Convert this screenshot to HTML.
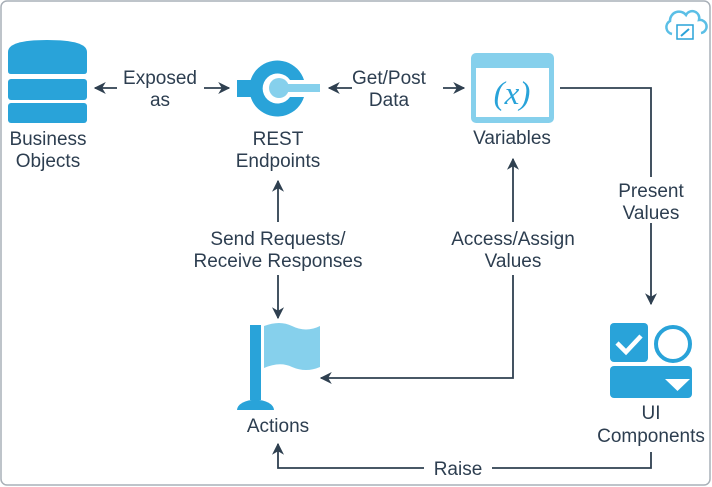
<!DOCTYPE html>
<html><head><style>
html,body{margin:0;padding:0;background:#fff;}
svg{display:block;}
text{font-family:"Liberation Sans",sans-serif;font-size:19px;fill:#2d3e50;text-anchor:middle;}
</style></head><body>
<svg width="712" height="487" viewBox="0 0 712 487" xmlns="http://www.w3.org/2000/svg">
<defs>
<marker id="a" viewBox="0 0 10 10" refX="9" refY="5" markerWidth="12" markerHeight="12" markerUnits="userSpaceOnUse" orient="auto-start-reverse">
<path d="M0,0 L10,5 L0,10 L3,5 Z" fill="#2f4050"/></marker>
</defs>
<rect x="1" y="1" width="709" height="484" rx="6" fill="#fff" stroke="#a9b0b8" stroke-width="1.5"/>
<!-- cloud -->
<g fill="none" stroke="#5bbfe6" stroke-width="2.5">
<path d="M672,34 a7,7 0 0 1 -2,-13 a9,9 0 0 1 16,-6 a7,7 0 0 1 13,5 a6,6 0 0 1 2,13"/>
</g>
<rect x="677" y="25" width="16" height="14" fill="#fff" stroke="#29a3d9" stroke-width="1.5"/>
<line x1="681" y1="36" x2="689" y2="29" stroke="#29a3d9" stroke-width="2"/>
<!-- DB -->
<g fill="#29a3d9">
<path d="M8,52 Q8,40 47,40 Q87,40 87,52 L87,71 Q87,74 84,74 L11,74 Q8,74 8,71 Z"/>
<rect x="8" y="79" width="79" height="21" rx="3"/>
<rect x="8" y="103" width="79" height="20" rx="3"/>
</g>
<text x="48" y="145">Business</text><text x="48" y="167">Objects</text>
<!-- exposed as -->
<line x1="117" y1="88" x2="95" y2="88" stroke="#2f4050" stroke-width="1.8" marker-end="url(#a)"/>
<line x1="204" y1="88" x2="229" y2="88" stroke="#2f4050" stroke-width="1.8" marker-end="url(#a)"/>
<text x="160" y="84">Exposed</text><text x="160" y="106">as</text>
<!-- REST -->
<path d="M304,80 A28,28 0 1 0 304,97 L290,97 A15,15 0 1 1 290,80 Z" fill="#29a3d9"/>
<rect x="237" y="80" width="14" height="17" fill="#29a3d9"/>
<circle cx="279" cy="88" r="10" fill="#86d0ec"/>
<rect x="279" y="84" width="41" height="8" fill="#86d0ec"/>
<text x="278" y="145">REST</text><text x="278" y="167">Endpoints</text>
<!-- get/post -->
<line x1="352" y1="88" x2="329" y2="88" stroke="#2f4050" stroke-width="1.8" marker-end="url(#a)"/>
<line x1="443" y1="88" x2="464" y2="88" stroke="#2f4050" stroke-width="1.8" marker-end="url(#a)"/>
<text x="389" y="84">Get/Post</text><text x="389" y="106">Data</text>
<!-- Variables -->
<rect x="471" y="53" width="83" height="70" rx="5" fill="#86d0ec"/>
<rect x="476" y="68" width="73" height="49" fill="#fff"/>
<text x="512" y="104" style="font-family:'Liberation Serif',serif;font-size:33px;fill:#29a3d9;font-style:italic">(<tspan>x</tspan>)</text>
<text x="512" y="144">Variables</text>
<!-- present values -->
<polyline points="560,88 651,88 651,304" fill="none" stroke="#2f4050" stroke-width="1.8" marker-end="url(#a)"/>
<rect x="605" y="177" width="92" height="46" fill="#fff"/>
<text x="651" y="197">Present</text><text x="651" y="219">Values</text>
<!-- UI -->
<rect x="610" y="323" width="38" height="39" rx="4" fill="#29a3d9"/>
<polyline points="617,343 626,352 641,336" fill="none" stroke="#fff" stroke-width="4.5"/>
<circle cx="673" cy="344" r="17" fill="none" stroke="#29a3d9" stroke-width="4"/>
<rect x="610" y="366" width="82" height="32" rx="4" fill="#29a3d9"/>
<polygon points="665,379 690,379 677.5,391" fill="#fff"/>
<text x="651" y="419">UI</text><text x="651" y="442">Components</text>
<!-- raise -->
<polyline points="651,452 651,468 278,468 278,444" fill="none" stroke="#2f4050" stroke-width="1.8" marker-end="url(#a)"/>
<rect x="424" y="456" width="68" height="24" fill="#fff"/>
<text x="458" y="475">Raise</text>
<!-- Actions -->
<rect x="250" y="325" width="11" height="75" fill="#29a3d9"/>
<path d="M237,410 A18,10 0 0 1 274,410 Z" fill="#29a3d9"/>
<path d="M264,326 Q280,320 292,326 Q306,333 320,326 L320,367 Q306,373 292,367 Q280,361 264,368 Z" fill="#86d0ec"/>
<text x="278" y="432">Actions</text>
<!-- send requests -->
<line x1="278" y1="222" x2="278" y2="181" stroke="#2f4050" stroke-width="1.8" marker-end="url(#a)"/>
<line x1="278" y1="275" x2="278" y2="318" stroke="#2f4050" stroke-width="1.8" marker-end="url(#a)"/>
<text x="278" y="245">Send Requests/</text><text x="278" y="267">Receive Responses</text>
<!-- access/assign -->
<line x1="513" y1="222" x2="513" y2="159" stroke="#2f4050" stroke-width="1.8" marker-end="url(#a)"/>
<polyline points="513,275 513,378 321,378" fill="none" stroke="#2f4050" stroke-width="1.8" marker-end="url(#a)"/>
<text x="513" y="245">Access/Assign</text><text x="513" y="267">Values</text>
</svg>
</body></html>
